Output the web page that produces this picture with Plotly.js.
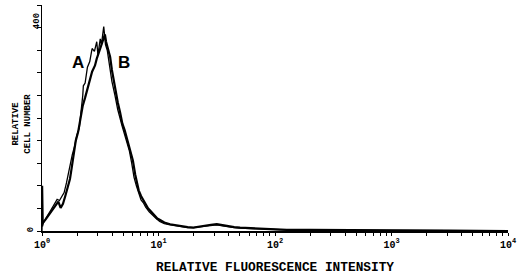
<!DOCTYPE html>
<html>
<head>
<meta charset="utf-8">
<script src="https://cdn.plot.ly/plotly-3.0.1.min.js"></script>
<style>html,body{margin:0;padding:0;background:#fff;}#chart{width:520px;height:275px;}</style>
</head>
<body>
<div id="chart"></div>
<script>
// Fluorescence intensity given as decades (log10 of intensity)
const decadesA = [0.00,0.005,0.01,0.03,0.05,0.07,0.09,0.11,0.13,0.15,0.17,0.19,0.21,0.23,0.245,0.26,0.28,0.30,0.32,0.34,0.35,0.355,0.37,0.39,0.41,0.43,0.45,0.47,0.48,0.50,0.51,0.53,0.545,0.56,0.585,0.60,0.627,0.65,0.687,0.71,0.73,0.75,0.77,0.79,0.81,0.83,0.85,0.87,0.89,0.92,0.95,0.98,1.01,1.05,1.10,1.15,1.20,1.25,1.30,1.35,1.40,1.45,1.50,1.55,1.60,1.65,1.70,1.80,1.90,2.00,2.10,2.30,2.60,3.00,3.50,4.00];
const countsA  = [0,80,14,22,28,35,42,50,56,54,60,68,85,108,118,135,150,170,182,215,240,257,262,290,300,323,318,335,312,340,330,362,330,320,287,265,239,215,186,170,160,142,120,95,80,68,55,50,42,34,27,22,17,13,11,9,8,6,6,7,9,10,11,9,7,6,5,4,3,3,2,2,1,1,0.5,0];

const decadesB = [0.00,0.01,0.03,0.05,0.07,0.09,0.11,0.13,0.14,0.16,0.18,0.20,0.22,0.24,0.25,0.27,0.29,0.31,0.33,0.35,0.37,0.39,0.41,0.43,0.455,0.47,0.50,0.52,0.54,0.55,0.57,0.585,0.60,0.61,0.63,0.65,0.67,0.69,0.71,0.73,0.75,0.77,0.78,0.80,0.815,0.83,0.85,0.87,0.89,0.91,0.93,0.96,0.99,1.01,1.05,1.10,1.15,1.20,1.25,1.30,1.35,1.40,1.45,1.50,1.55,1.60,1.65,1.70,1.80,1.90,2.00,2.10,2.30,2.60,3.00,3.50,4.00];
const countsB  = [8,15,20,26,32,38,45,50,52,41,48,62,77,92,105,130,160,175,200,222,236,252,268,282,293,305,323,338,348,335,318,308,285,272,250,228,210,190,178,162,150,135,125,100,86,72,62,54,46,40,36,28,22,20,15,12,10,8,7,6,8,10,11,12,10,8,7,6,5,4,3,2,2,1,1,0.5,0];

const peakLabels = ["A","B"];
const labelDecades = [0.313,0.704];
const labelCounts = [299,299];

const yTickVals = [0,40,80,120,160,200,240,280,320,360,400];
const yTickText = ["0","","","","","","","","","",""];
const yTopLabel = "400";

const decadeVals = [1,10,100,1000,10000];
const decadeText = ["10<sup>0</sup>","10<sup>1</sup>","10<sup>2</sup>","10<sup>3</sup>","10<sup>4</sup>"];

// tick positions on the log axis: every integer multiple within each decade
const xTickVals = [], xTickText = [];
for (let d = 0; d < 4; d++) {
  for (let m = 1; m < 10; m++) {
    const v = m * Math.pow(10, d);
    xTickVals.push(v);
    const i = decadeVals.indexOf(v);
    xTickText.push(i >= 0 ? decadeText[i] : "");
  }
}
xTickVals.push(10000); xTickText.push(decadeText[4]);

const toVal = a => a.map(d => Math.pow(10, d));

const traces = [
  {x: toVal(decadesA), y: countsA, type: 'scatter', mode: 'lines',
   line: {color: '#000', width: 1.3}, hoverinfo: 'skip'},
  {x: toVal(decadesB), y: countsB, type: 'scatter', mode: 'lines',
   line: {color: '#000', width: 2.2}, hoverinfo: 'skip'}
];

const mono = '"Liberation Mono", "Courier New", monospace';

const annotations = peakLabels.map((t, i) => ({
  text: t, x: labelDecades[i], y: labelCounts[i], xref: 'x', yref: 'y',
  showarrow: false, font: {family: '"Liberation Sans", Arial, sans-serif', size: 17, color: '#000', weight: 'bold'}
}));
annotations.push(
  {text: 'RELATIVE', xref: 'paper', yref: 'paper', x: -0.071, y: 0.475, showarrow: false,
   textangle: -90, font: {family: mono, size: 9, color: '#000', weight: 'bold'}},
  {text: 'CELL NUMBER', xref: 'paper', yref: 'paper', x: -0.045, y: 0.475, showarrow: false,
   textangle: -90, font: {family: mono, size: 9, color: '#000', weight: 'bold'}},
  {text: yTopLabel, xref: 'paper', yref: 'paper', x: -0.024, y: 0.972, showarrow: false,
   textangle: -90, font: {family: mono, size: 9, color: '#000', weight: 'bold'}}
);

const layout = {
  width: 520, height: 275,
  margin: {l: 42, r: 12, t: 5, b: 44},
  paper_bgcolor: '#fff', plot_bgcolor: '#fff',
  showlegend: false,
  xaxis: {
    type: 'log', range: [0, 4], tickmode: 'array', tickvals: xTickVals, ticktext: xTickText,
    ticks: 'outside', ticklen: 3, tickwidth: 1, tickcolor: '#000',
    showline: true, linecolor: '#000', linewidth: 1.5, showgrid: false, zeroline: false,
    tickfont: {family: mono, size: 10, color: '#000', weight: 'bold'},
    title: {text: 'RELATIVE FLUORESCENCE INTENSITY', standoff: 16,
            font: {family: mono, size: 12.8, color: '#000', weight: 'bold'}}
  },
  yaxis: {
    range: [0, 400], tickmode: 'array', tickvals: yTickVals, ticktext: yTickText,
    ticks: 'outside', ticklen: 4, tickwidth: 1, tickcolor: '#000', tickangle: -90,
    showline: true, linecolor: '#000', linewidth: 1.5, showgrid: false, zeroline: false,
    tickfont: {family: mono, size: 9, color: '#000', weight: 'bold'}
  },
  annotations: annotations
};

Plotly.newPlot('chart', traces, layout, {displayModeBar: false, staticPlot: true});
</script>
</body>
</html>
